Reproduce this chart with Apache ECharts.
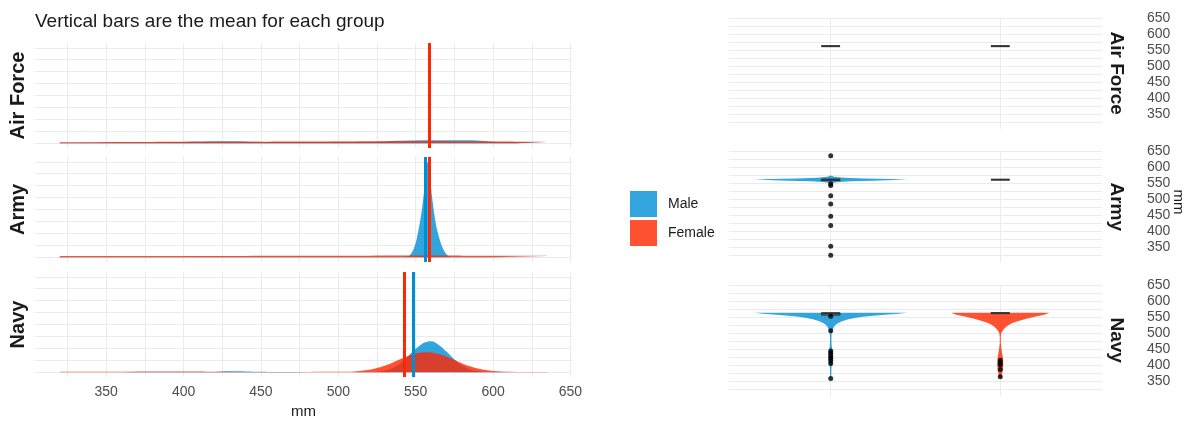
<!DOCTYPE html>
<html><head><meta charset="utf-8">
<script src="https://cdn.jsdelivr.net/npm/echarts@6/dist/echarts.min.js"></script>
<style>html,body{margin:0;padding:0;background:#fff}#c{width:1191px;height:421px}</style>
</head><body><div id="c"></div>
<script>
// ---------------- data ----------------
const groups = ['Air Force', 'Army', 'Navy'];
const sexes = ['Male', 'Female'];
const xTickLabels = [350, 400, 450, 500, 550, 600, 650];
const xGridValues = [325, 350, 375, 400, 425, 450, 475, 500, 525, 550, 575, 600, 625, 650];
const densityGridValues = [0, 1, 2, 3, 4, 5, 6, 7, 8];
const rightTickLabels = [350, 400, 450, 500, 550, 600, 650];
const rightGridValues = [325, 350, 375, 400, 425, 450, 475, 500, 525, 550, 575, 600, 625, 650];

// density curves (left) : x in mm, density in grid units
const afX      = [320, 345, 370, 395, 410, 425, 440, 455, 480, 505, 530, 545, 560, 575, 590, 600, 615, 635];
const afMale   = [0.04, 0.06, 0.08, 0.10, 0.14, 0.16, 0.15, 0.10, 0.10, 0.12, 0.16, 0.22, 0.24, 0.24, 0.22, 0.12, 0.10, 0.08];
const afFemale = [0.08, 0.09, 0.10, 0.12, 0.12, 0.12, 0.12, 0.13, 0.14, 0.15, 0.15, 0.16, 0.16, 0.15, 0.14, 0.14, 0.13, 0.12];

const armyX      = [320, 360, 400, 440, 480, 520, 540, 543, 546, 548, 550, 552, 554, 556, 557.5, 559, 561, 563, 565, 567, 569, 571, 574, 580, 600, 635];
const armyMale   = [0.02, 0.02, 0.02, 0.03, 0.03, 0.03, 0.03, 0.05, 0.15, 0.5, 1.2, 2.4, 4.0, 6.2, 8.0, 6.8, 4.6, 2.8, 1.7, 0.9, 0.4, 0.12, 0.03, 0.02, 0.02, 0.02];
const armyFemale = [0.10, 0.10, 0.11, 0.11, 0.12, 0.13, 0.14, 0.14, 0.14, 0.14, 0.14, 0.14, 0.14, 0.14, 0.14, 0.14, 0.14, 0.14, 0.14, 0.14, 0.14, 0.14, 0.14, 0.13, 0.12, 0.11];

const navyX      = [320, 340, 360, 380, 400, 410, 420, 430, 440, 450, 460, 480, 500, 510, 520, 525, 530, 535, 540, 545, 550, 555, 560, 565, 570, 575, 580, 585, 590, 600, 610, 620, 635];
const navyMale   = [0, 0, 0, 0.01, 0.01, 0.01, 0.02, 0.08, 0.07, 0.03, 0.01, 0, 0, 0, 0.01, 0.05, 0.14, 0.35, 0.74, 1.32, 1.96, 2.46, 2.59, 2.29, 1.71, 1.07, 0.56, 0.25, 0.09, 0.01, 0, 0, 0];
const navyFemale = [0.02, 0.03, 0.05, 0.07, 0.07, 0.06, 0.03, 0.02, 0.02, 0.02, 0.02, 0.02, 0.03, 0.06, 0.20, 0.35, 0.55, 0.80, 1.08, 1.35, 1.56, 1.67, 1.66, 1.52, 1.29, 1.02, 0.74, 0.50, 0.31, 0.10, 0.03, 0.01, 0];

// group means (vertical bars)
const meanMale   = [558.5, 556.2, 548.3];
const meanFemale = [558.6, 559.0, 542.9];

// violin profiles (right): [mm, half width]
const afMaleViolin = [];
const afFemaleViolin = [];
const armyMaleViolin = [[548, 0], [552, 0.015], [555, 0.05], [557, 0.12], [559, 0.25], [561, 0.38], [562.5, 0.45], [564, 0.36], [566, 0.2], [568, 0.08], [571, 0.02], [575, 0]];
const armyFemaleViolin = [];
const navyMaleViolin = [[355, 0], [360, 0.003], [375, 0.004], [390, 0.004], [400, 0.007], [410, 0.01], [420, 0.012], [430, 0.013], [440, 0.012], [450, 0.008], [465, 0.005], [480, 0.004], [495, 0.005], [505, 0.007], [510, 0.01], [515, 0.015], [520, 0.02], [525, 0.028], [530, 0.04], [535, 0.06], [539, 0.08], [543, 0.105], [547, 0.14], [551, 0.19], [554, 0.25], [557, 0.32], [560, 0.40], [563, 0.45]];
const navyFemaleViolin = [[358, 0], [363, 0.008], [370, 0.01], [384, 0.015], [405, 0.018], [426, 0.015], [440, 0.01], [458, 0.005], [470, 0.003], [489, 0.003], [500, 0.006], [505, 0.011], [510, 0.018], [515, 0.026], [520, 0.036], [526, 0.052], [531, 0.072], [536, 0.098], [541, 0.128], [547, 0.17], [552, 0.217], [557, 0.26], [563, 0.29]];

// boxplots: [q1, median, q3]
const afMaleBox = [562, 562, 562];
const afFemaleBox = [562, 562, 562];
const armyMaleBox = [559, 562, 563];
const armyFemaleBox = [562, 562, 562];
const navyMaleBox = [556, 561, 563];
const navyFemaleBox = [561, 562, 563];

// outliers
const afMaleOut = [];
const afFemaleOut = [];
const armyMaleOut = [637, 549, 544, 512, 486, 447.5, 418.6, 354, 325.5];
const armyFemaleOut = [];
const navyMaleOut = [552, 507, 444, 437, 428, 421, 413.5, 405, 358];
const navyFemaleOut = [415, 407, 400, 386, 363];

// ---------------- chart ----------------
const BLUE = '#008FD5', RED = '#FF2700';
const FONT = '"Liberation Sans", Arial, sans-serif';
const GRIDC = '#ebebeb';

const densX = [afX, armyX, navyX];
const densM = [afMale, armyMale, navyMale];
const densF = [afFemale, armyFemale, navyFemale];
const violinsM = [afMaleViolin, armyMaleViolin, navyMaleViolin];
const violinsF = [afFemaleViolin, armyFemaleViolin, navyFemaleViolin];
const boxesM = [afMaleBox, armyMaleBox, navyMaleBox];
const boxesF = [afFemaleBox, armyFemaleBox, navyFemaleBox];
const outM = [afMaleOut, armyMaleOut, navyMaleOut];
const outF = [afFemaleOut, armyFemaleOut, navyFemaleOut];

const leftTops = [43, 157, 272];
const leftH = 105;
const rightTops = [17.7, 151.2, 284.7];
const rightH = 111;

const grids = [], xAxes = [], yAxes = [], series = [];
groups.forEach((g, i) => {
  grids.push({ left: 35, top: leftTops[i], width: 537, height: leftH, outerBoundsMode: 'none' });
});
groups.forEach((g, i) => {
  grids.push({ left: 729, top: rightTops[i], width: 373, height: rightH, outerBoundsMode: 'none' });
});

groups.forEach((g, i) => {
  xAxes.push({
    type: 'value', gridIndex: i, min: 304, max: 651,
    axisLine: { show: false },
    axisTick: { show: false, customValues: xGridValues },
    axisLabel: { show: i === 2, customValues: xTickLabels, color: '#4d4d4d', fontSize: 14, fontFamily: FONT, margin: 8 },
    splitLine: { show: true, lineStyle: { color: GRIDC, width: 1 } },
    name: i === 2 ? 'mm' : '', nameLocation: 'middle', nameGap: 27,
    nameTextStyle: { fontSize: 15, color: '#1a1a1a', fontFamily: FONT }
  });
  yAxes.push({
    type: 'value', gridIndex: i, min: -0.4, max: 8.4,
    axisLine: { show: false },
    axisTick: { show: false, customValues: densityGridValues },
    axisLabel: { show: false },
    splitLine: { show: true, lineStyle: { color: GRIDC, width: 1 } }
  });
});
groups.forEach((g, i) => {
  xAxes.push({
    type: 'value', gridIndex: 3 + i, min: 0.4, max: 2.6,
    axisLine: { show: false },
    axisTick: { show: false, customValues: [1, 2] },
    axisLabel: { show: false },
    splitLine: { show: true, lineStyle: { color: GRIDC, width: 1 } }
  });
  yAxes.push({
    type: 'value', gridIndex: 3 + i, min: 304, max: 651, position: 'right',
    axisLine: { show: false },
    axisTick: { show: false, customValues: rightGridValues },
    axisLabel: { show: true, customValues: rightTickLabels, color: '#4d4d4d', fontSize: 14, fontFamily: FONT, margin: 45 },
    splitLine: { show: true, lineStyle: { color: GRIDC, width: 1 } }
  });
});

function zip(xs, ys) { return xs.map((x, k) => [x, ys[k]]); }

groups.forEach((g, i) => {
  series.push({
    name: 'Male', type: 'line', xAxisIndex: i, yAxisIndex: i, data: zip(densX[i], densM[i]),
    showSymbol: false, smooth: 0.3, lineStyle: { width: 0 }, itemStyle: { color: BLUE },
    areaStyle: { color: BLUE, opacity: 0.8 }, z: 2, silent: true
  });
  series.push({
    name: 'Female', type: 'line', xAxisIndex: i, yAxisIndex: i, data: zip(densX[i], densF[i]),
    showSymbol: false, smooth: 0.3, lineStyle: { width: 0 }, itemStyle: { color: RED },
    areaStyle: { color: RED, opacity: 0.8 }, z: 3, silent: true
  });
  series.push({
    type: 'line', xAxisIndex: i, yAxisIndex: i, data: [[meanMale[i], 0]], showSymbol: false,
    lineStyle: { opacity: 0 }, z: 4, silent: true,
    markLine: { silent: true, symbol: 'none', animation: false, label: { show: false },
      lineStyle: { color: BLUE, width: 3, type: 'solid' }, data: [{ xAxis: meanMale[i] }] }
  });
  series.push({
    type: 'line', xAxisIndex: i, yAxisIndex: i, data: [[meanFemale[i], 0]], showSymbol: false,
    lineStyle: { opacity: 0 }, z: 5, silent: true,
    markLine: { silent: true, symbol: 'none', animation: false, label: { show: false },
      lineStyle: { color: RED, width: 3, type: 'solid' }, data: [{ xAxis: meanFemale[i] }] }
  });
});

function violin(profile, center, color, idx) {
  return {
    type: 'custom', xAxisIndex: idx, yAxisIndex: idx, silent: true, z: 2,
    data: [[center, 500]],
    renderItem: function (params, api) {
      if (!profile.length) return null;
      const pts = [];
      profile.forEach(p => pts.push(api.coord([center - p[1], p[0]])));
      for (let k = profile.length - 1; k >= 0; k--) pts.push(api.coord([center + profile[k][1], profile[k][0]]));
      return { type: 'polygon', shape: { points: pts }, style: { fill: color, opacity: 0.8, stroke: null } };
    }
  };
}
function box(b, center, idx) {
  return {
    type: 'custom', xAxisIndex: idx, yAxisIndex: idx, silent: true, z: 3,
    data: [[center, b[0], b[1], b[2]]],
    renderItem: function (params, api) {
      const hw = 0.055;
      const tl = api.coord([center - hw, b[2]]);
      const br = api.coord([center + hw, b[0]]);
      const m1 = api.coord([center - hw, b[1]]);
      const m2 = api.coord([center + hw, b[1]]);
      return {
        type: 'group', children: [
          { type: 'rect', shape: { x: tl[0], y: tl[1], width: br[0] - tl[0], height: Math.max(br[1] - tl[1], 0) },
            style: { fill: 'rgba(0,0,0,0)', stroke: '#333', lineWidth: 1 } },
          { type: 'line', shape: { x1: m1[0], y1: m1[1], x2: m2[0], y2: m2[1] }, style: { stroke: '#333', lineWidth: 2 } }
        ]
      };
    }
  };
}
groups.forEach((g, i) => {
  const idx = 3 + i;
  series.push(violin(violinsM[i], 1, BLUE, idx));
  series.push(violin(violinsF[i], 2, RED, idx));
  series.push(box(boxesM[i], 1, idx));
  series.push(box(boxesF[i], 2, idx));
  series.push({
    type: 'scatter', xAxisIndex: idx, yAxisIndex: idx, silent: true, z: 4,
    data: outM[i].map(v => [1, v]).concat(outF[i].map(v => [2, v])),
    symbol: 'circle', symbolSize: 5, itemStyle: { color: '#000' }
  });
});

const graphics = [];
groups.forEach((g, i) => {
  graphics.push({ type: 'text', x: 18, y: leftTops[i] + leftH / 2, rotation: Math.PI / 2,
    style: { text: g, font: 'bold 20px ' + FONT, fill: '#1a1a1a', textAlign: 'center', textVerticalAlign: 'middle', align: 'center', verticalAlign: 'middle' } });
  graphics.push({ type: 'text', x: 1116, y: rightTops[i] + rightH / 2, rotation: -Math.PI / 2,
    style: { text: g, font: 'bold 19px ' + FONT, fill: '#1a1a1a', textAlign: 'center', textVerticalAlign: 'middle', align: 'center', verticalAlign: 'middle' } });
});
graphics.push({ type: 'text', x: 1178, y: 202, rotation: -Math.PI / 2,
  style: { text: 'mm', font: '15px ' + FONT, fill: '#1a1a1a', textAlign: 'center', textVerticalAlign: 'middle', align: 'center', verticalAlign: 'middle' } });

const option = {
  animation: false,
  backgroundColor: '#ffffff',
  title: { text: 'Vertical bars are the mean for each group', left: 35, top: 12, padding: 0,
    textStyle: { fontSize: 19, fontWeight: 'normal', color: '#1a1a1a', fontFamily: FONT } },
  legend: {
    data: [{ name: 'Male', itemStyle: { color: '#33a5dd', opacity: 1 } }, { name: 'Female', itemStyle: { color: '#ff5233', opacity: 1 } }],
    orient: 'vertical', left: 630, top: 191, padding: 0, icon: 'rect', itemWidth: 27, itemHeight: 26, itemGap: 3,
    textStyle: { fontSize: 14, color: '#1a1a1a', fontFamily: FONT, padding: [0, 0, 0, 6] }, selectedMode: false
  },
  grid: grids, xAxis: xAxes, yAxis: yAxes, series: series, graphic: graphics
};
const chart = echarts.init(document.getElementById('c'), null, { renderer: 'canvas' });
chart.setOption(option);
</script></body></html>
